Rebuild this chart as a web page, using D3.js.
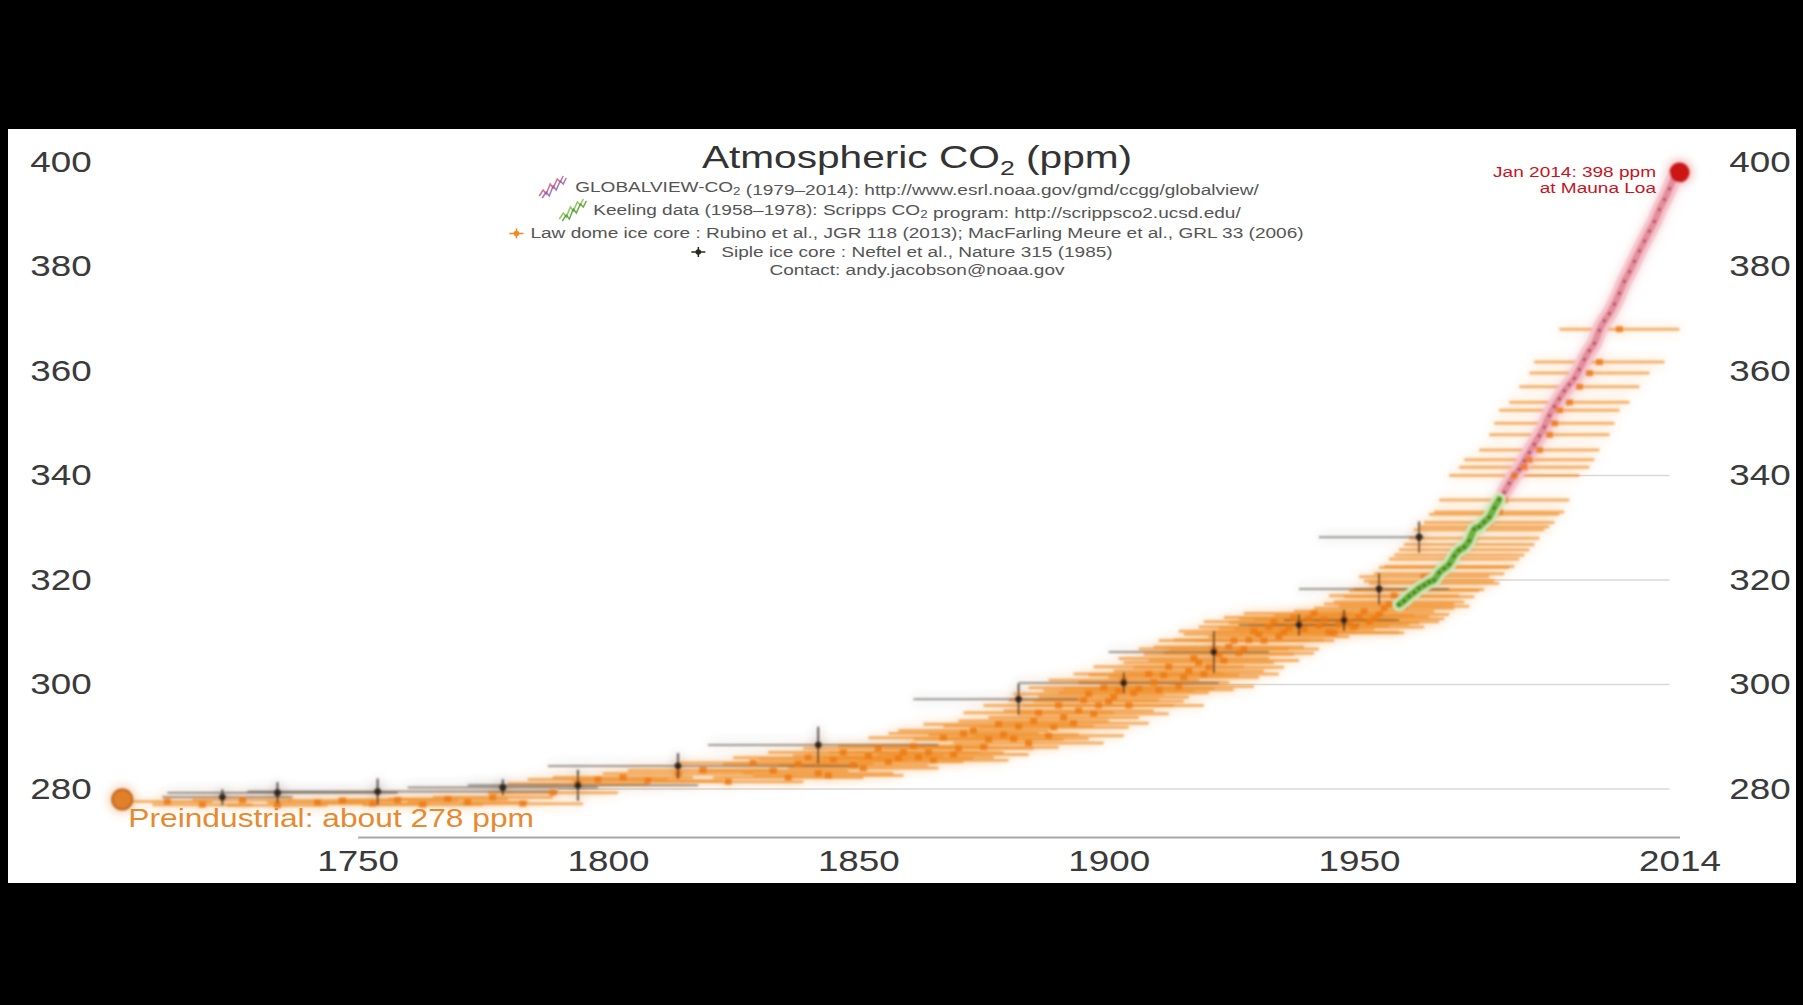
<!DOCTYPE html>
<html>
<head>
<meta charset="utf-8">
<script src="https://cdn.jsdelivr.net/npm/d3@7"></script>
<style>
  html, body { margin: 0; padding: 0; background: #000; }
  svg { display: block; }
</style>
</head>
<body>
<svg id="chart" width="1803" height="1005"></svg>
<script>
// ---------------- data ----------------
const yTicks = [280, 300, 320, 340, 360, 380, 400];
const xTickYears = [1750, 1800, 1850, 1900, 1950, 2014];

// light reference lines, drawn from where the record reaches each level
const gridPpm = [280, 300, 320, 340];
const gridFromYear = [1790, 1912, 1966, 1981];
const gridToYear = 2012;

// Law Dome ice core: gas age (year), CO2 (ppm), age spread (+/- years)
const ldYear = [1712, 1719, 1727, 1734, 1742, 1747, 1753, 1758, 1763, 1768, 1772, 1777, 1783, 1789, 1794, 1798,
  1803, 1808, 1814, 1819, 1824, 1829, 1833, 1838, 1842, 1845, 1849, 1852, 1856, 1859, 1862, 1865, 1867, 1870,
  1873, 1876, 1879, 1882, 1884, 1886, 1889, 1891, 1894, 1896, 1898, 1900, 1902, 1904, 1906, 1909, 1911, 1914,
  1916, 1918, 1920, 1922, 1924, 1926, 1928, 1930, 1932, 1934, 1936, 1938, 1940, 1942, 1944, 1946, 1948, 1950,
  1952, 1954, 1956, 1958, 1960, 1962, 1964, 1966, 1968, 1970, 1972, 1974, 1976, 1978, 1979, 1981, 1983, 1984,
  1986, 1988, 1989, 1990, 1992, 1994, 1996, 1998, 2002,
  1836, 1840, 1844, 1847, 1851, 1854, 1858, 1861, 1864, 1869, 1871, 1875, 1878, 1881, 1885, 1888, 1890, 1893,
  1895, 1897, 1899, 1901, 1903, 1905, 1908, 1910, 1912, 1915, 1917, 1919, 1921, 1923, 1925, 1927, 1929, 1931,
  1933, 1935, 1937, 1939, 1941, 1943, 1945, 1947, 1949, 1951, 1953, 1955, 1957, 1959, 1961, 1963, 1965, 1967,
  1969, 1971, 1973, 1975, 1977];
const ldPpm = [277.6, 277.0, 277.9, 276.9, 277.4, 277.8, 277.2, 277.9, 277.0, 278.1, 277.5, 278.4, 277.2, 279.3,
  281.0, 281.8, 282.2, 281.6, 282.9, 283.6, 281.4, 285.0, 283.5, 284.8, 283.0, 285.6, 284.6, 286.3, 285.2, 287.0,
  286.1, 285.5, 289.8, 287.8, 291.2, 289.5, 290.4, 292.0, 288.8, 294.6, 291.8, 293.7, 295.0, 298.2, 296.0, 296.8,
  298.8, 296.0, 299.2, 300.4, 301.8, 299.6, 302.6, 304.2, 303.3, 305.8, 307.2, 306.0, 308.5, 309.6, 311.0, 309.2,
  310.8, 311.8, 312.6, 311.2, 310.0, 311.6, 311.8, 312.9, 312.0, 313.4, 315.4, 315.8, 316.8, 318.2, 319.8, 321.2,
  322.6, 324.8, 326.8, 329.6, 331.0, 333.0, 335.3, 340.0, 341.6, 343.0, 344.9, 347.8, 350.0, 352.5, 354.0, 357.0,
  359.6, 361.7, 368.0,
  282.2, 286.0, 282.6, 287.0, 284.0, 287.8, 285.9, 288.2, 287.0, 286.6, 290.6, 288.0, 292.4, 289.6, 293.0, 290.2,
  296.0, 292.6, 297.0, 294.4, 299.4, 297.6, 300.8, 298.4, 302.0, 299.0, 303.4, 301.4, 305.0, 302.0, 306.8, 304.6,
  308.4, 306.8, 310.2, 308.4, 312.0, 310.0, 312.8, 310.6, 313.6, 312.4, 309.9, 313.2, 311.0, 314.0, 312.6, 314.6,
  317.0, 315.0, 318.0, 320.6, 319.4, 322.4, 324.0, 325.8, 328.0, 330.2, 332.6];
const ldSpread = [9, 10, 10, 10, 10, 11, 11, 12, 12, 12, 12, 12, 12, 13, 14, 14, 14, 15, 15, 15, 15, 15, 15, 15,
  15, 15, 15, 15, 15, 15, 15, 15, 15, 15, 15, 15, 15, 15, 15, 15, 15, 15, 15, 15, 15, 15, 15, 15, 15, 15, 15, 15,
  15, 15, 15, 15, 15, 15, 15, 15, 14, 14, 14, 14, 14, 14, 14, 14, 14, 14, 14, 14, 13, 13, 13, 13, 13, 13, 13, 13,
  13, 13, 13, 13, 13, 13, 13, 13, 12, 12, 12, 12, 12, 12, 12, 13, 12,
  15, 15, 15, 15, 15, 15, 15, 15, 15, 15, 15, 15, 15, 15, 15, 15, 15, 15, 15, 15, 15, 15, 15, 15, 15, 15, 15, 15,
  15, 15, 15, 15, 15, 15, 15, 14, 14, 14, 14, 14, 14, 14, 14, 14, 14, 14, 14, 14, 13, 13, 13, 13, 13, 13, 13, 13,
  13, 13, 13];

// Siple ice core: year, CO2 (ppm), age range, CO2 uncertainty (+/- ppm)
const sipleYear = [1723, 1734, 1754, 1779, 1794, 1814, 1842, 1882, 1903, 1921, 1938, 1947, 1954, 1962];
const siplePpm = [278.4, 279.3, 279.5, 280.3, 280.7, 284.4, 288.4, 297.2, 300.3, 306.2, 311.4, 312.3, 318.3, 328.2];
const sipleAgeLo = [1711, 1712, 1728, 1760, 1772, 1788, 1820, 1861, 1882, 1900, 1926, 1935, 1938, 1942];
const sipleAgeHi = [1737, 1758, 1790, 1798, 1818, 1850, 1866, 1894, 1922, 1932, 1950, 1958, 1968, 1963];
const sipleErr = [1.5, 2.0, 2.5, 1.5, 3.0, 2.5, 3.5, 3.0, 2.0, 4.0, 2.0, 2.0, 3.0, 3.0];

// Keeling / Scripps Mauna Loa record, annual means
const keelingYear = [1958, 1959, 1960, 1961, 1962, 1963, 1964, 1965, 1966, 1967, 1968, 1969, 1970, 1971, 1972,
  1973, 1974, 1975, 1976, 1977, 1978];
const keelingPpm = [315.3, 316.0, 316.9, 317.6, 318.4, 319.0, 319.6, 320.0, 321.4, 322.2, 323.0, 324.6, 325.7,
  326.3, 327.5, 329.7, 330.2, 331.1, 332.0, 333.8, 335.4];

// GLOBALVIEW-CO2 marine boundary layer, annual means
const gvYear = [1979, 1980, 1981, 1982, 1983, 1984, 1985, 1986, 1987, 1988, 1989, 1990, 1991, 1992, 1993, 1994,
  1995, 1996, 1997, 1998, 1999, 2000, 2001, 2002, 2003, 2004, 2005, 2006, 2007, 2008, 2009, 2010, 2011, 2012,
  2013, 2014];
const gvPpm = [336.8, 338.5, 340.0, 341.2, 342.8, 344.4, 346.0, 347.6, 349.3, 351.5, 353.2, 354.7, 356.2, 357.4,
  358.6, 360.3, 362.2, 363.9, 365.3, 367.8, 369.6, 371.0, 372.8, 374.9, 377.2, 379.0, 381.0, 383.0, 384.9, 386.8,
  388.6, 390.9, 392.8, 394.9, 397.0, 398.0];

const latestYear = 2014, latestPpm = 398;
const preindustrialYear = 1703, preindustrialPpm = 278;

// ---------------- drawing ----------------
const W = 1803, H = 1005;
const SX = 1.27;  // horizontal stretch of the lettering
const FONT = '"Liberation Sans", Arial, Helvetica, sans-serif';
const svg = d3.select('#chart');

const x = d3.scaleLinear().domain([1750, 2014]).range([357.6, 1679.5]);
const y = d3.scaleLinear().domain([280, 400]).range([789, 162]);

svg.append('rect').attr('width', W).attr('height', H).attr('fill', '#000');
svg.append('rect').attr('x', 8).attr('y', 129).attr('width', 1788).attr('height', 754).attr('fill', '#fff');

const defs = svg.append('defs');
defs.append('filter').attr('id', 'haze')
  .attr('x', '-5%').attr('y', '-10%').attr('width', '110%').attr('height', '120%')
  .append('feGaussianBlur').attr('stdDeviation', 6);
defs.append('filter').attr('id', 'soft')
  .attr('x', '-5%').attr('y', '-10%').attr('width', '110%').attr('height', '120%')
  .append('feGaussianBlur').attr('stdDeviation', 0.8);

function stext(g, px, py, str, size, color, anchor) {
  return g.append('text')
    .attr('transform', `translate(${px},${py}) scale(${SX},1)`)
    .attr('text-anchor', anchor || 'middle')
    .attr('font-family', FONT)
    .attr('font-size', size)
    .attr('fill', color)
    .text(str);
}

// reference lines
svg.append('g').selectAll('line').data(gridPpm).join('line')
  .attr('x1', (d, i) => x(gridFromYear[i])).attr('x2', x(gridToYear))
  .attr('y1', d => y(d)).attr('y2', d => y(d))
  .attr('stroke', '#d9d9d9').attr('stroke-width', 1.5);

// x axis
const xAxis = svg.append('g').attr('transform', 'translate(0,837)')
  .call(d3.axisBottom(x).tickValues(xTickYears).tickFormat(d3.format('d')).tickSize(0).tickPadding(13));
xAxis.select('.domain').attr('stroke', '#a8a8a8').attr('stroke-width', 2);
xAxis.selectAll('text').attr('font-family', FONT).attr('font-size', 29).attr('fill', '#3a3a3a')
  .attr('transform', `scale(${SX},1)`);

// y axes on both sides
function yAxis(px) {
  const g = svg.append('g').attr('transform', `translate(${px},0)`)
    .call(d3.axisLeft(y).tickValues(yTicks).tickFormat(d3.format('d')).tickSize(0).tickPadding(0));
  g.select('.domain').remove();
  g.selectAll('text').attr('x', 0).attr('text-anchor', 'middle')
    .attr('font-family', FONT).attr('font-size', 29).attr('fill', '#3a3a3a')
    .attr('transform', `scale(${SX},1)`);
}
yAxis(61);
yAxis(1760);

// the records
function drawRecords(g) {
  // Law Dome age ranges
  g.append('g').selectAll('line').data(ldYear).join('line')
    .attr('x1', (d, i) => x(d - ldSpread[i])).attr('x2', (d, i) => x(d + ldSpread[i]))
    .attr('y1', (d, i) => y(ldPpm[i])).attr('y2', (d, i) => y(ldPpm[i]))
    .attr('stroke', '#f0922e').attr('stroke-width', 3).attr('stroke-opacity', 0.68);

  // Siple age ranges
  g.append('g').selectAll('line').data(sipleYear).join('line')
    .attr('x1', (d, i) => x(sipleAgeLo[i])).attr('x2', (d, i) => x(sipleAgeHi[i]))
    .attr('y1', (d, i) => y(siplePpm[i])).attr('y2', (d, i) => y(siplePpm[i]))
    .attr('stroke', '#4a4038').attr('stroke-width', 1.5).attr('stroke-opacity', 0.7);

  // GLOBALVIEW
  const gvLine = d3.line().x((d, i) => x(gvYear[i])).y((d, i) => y(gvPpm[i])).curve(d3.curveMonotoneX);
  g.append('path').datum(gvYear).attr('d', gvLine).attr('fill', 'none')
    .attr('stroke', '#f5c3ca').attr('stroke-width', 15).attr('stroke-linecap', 'round');
  g.append('path').datum(gvYear).attr('d', gvLine).attr('fill', 'none')
    .attr('stroke', '#e48d9c').attr('stroke-width', 7).attr('stroke-linecap', 'round');
  g.append('g').selectAll('circle').data(gvYear).join('circle')
    .attr('cx', d => x(d)).attr('cy', (d, i) => y(gvPpm[i])).attr('r', 1.5).attr('fill', '#a8324f');

  // Law Dome samples
  g.append('g').selectAll('rect').data(ldYear).join('rect')
    .attr('x', d => x(d) - 3.5).attr('y', (d, i) => y(ldPpm[i]) - 3)
    .attr('width', 7).attr('height', 6)
    .attr('fill', '#ec7a14').attr('fill-opacity', 0.85);

  // Keeling
  const kLine = d3.line().x((d, i) => x(keelingYear[i])).y((d, i) => y(keelingPpm[i])).curve(d3.curveMonotoneX);
  g.append('path').datum(keelingYear).attr('d', kLine).attr('fill', 'none')
    .attr('stroke', '#cfe6b5').attr('stroke-width', 13).attr('stroke-linecap', 'round');
  g.append('path').datum(keelingYear).attr('d', kLine).attr('fill', 'none')
    .attr('stroke', '#6db23c').attr('stroke-width', 7).attr('stroke-linecap', 'round');
  g.append('g').selectAll('circle').data(keelingYear).join('circle')
    .attr('cx', d => x(d)).attr('cy', (d, i) => y(keelingPpm[i])).attr('r', 1.8).attr('fill', '#3c7a1a');

  // Siple samples with uncertainty
  g.append('g').selectAll('line').data(sipleYear).join('line')
    .attr('x1', d => x(d)).attr('x2', d => x(d))
    .attr('y1', (d, i) => y(siplePpm[i] - sipleErr[i])).attr('y2', (d, i) => y(siplePpm[i] + sipleErr[i]))
    .attr('stroke', '#2e2620').attr('stroke-width', 1.5);
  g.append('g').selectAll('circle').data(sipleYear).join('circle')
    .attr('cx', d => x(d)).attr('cy', (d, i) => y(siplePpm[i])).attr('r', 3.4).attr('fill', '#2e2620');

  // latest Mauna Loa value and the preindustrial level
  g.append('circle').attr('cx', x(latestYear)).attr('cy', y(latestPpm)).attr('r', 10).attr('fill', '#cc1414');
  g.append('circle').attr('cx', x(preindustrialYear)).attr('cy', y(preindustrialPpm)).attr('r', 10)
    .attr('fill', '#e0802a').attr('stroke', '#c4641a').attr('stroke-width', 2);
}
drawRecords(svg.append('g').attr('filter', 'url(#haze)').attr('opacity', 0.6));
drawRecords(svg.append('g').attr('filter', 'url(#soft)'));

// annotations
stext(svg, 1656, 177, 'Jan 2014: 398 ppm', 15, '#c8141e', 'end');
stext(svg, 1656, 193, 'at Mauna Loa', 15, '#c8141e', 'end');
stext(svg, x(preindustrialYear) + 6, 827, 'Preindustrial: about 278 ppm', 25, '#e8892e', 'start');

// title
const title = stext(svg, 917, 168, '', 32, '#333', 'middle');
title.append('tspan').text('Atmospheric CO');
title.append('tspan').attr('font-size', 21).attr('dy', 7).text('2');
title.append('tspan').attr('dy', -7).text(' (ppm)');

// sources
const lg = svg.append('g');
function sourceLine(cy, parts) {
  const t = stext(lg, 917, cy, '', 15, '#555', 'middle');
  parts.forEach(p => {
    if (typeof p === 'object') {
      t.append('tspan').attr('font-size', 10.5).attr('dy', 3).text(p.sub);
      t.append('tspan').attr('dy', -3).text('');
    } else {
      t.append('tspan').text(p);
    }
  });
  return 917 - t.node().getComputedTextLength() * SX / 2;
}
const s1 = sourceLine(192, ['GLOBALVIEW-CO', {sub: '2'}, ' (1979–2014): http://www.esrl.noaa.gov/gmd/ccgg/globalview/']);
const s2 = sourceLine(214.5, ['Keeling data (1958–1978): Scripps CO', {sub: '2'}, ' program: http://scrippsco2.ucsd.edu/']);
const s3 = sourceLine(238, ['Law dome ice core : Rubino et al., JGR 118 (2013); MacFarling Meure et al., GRL 33 (2006)']);
const s4 = sourceLine(256.5, ['Siple ice core : Neftel et al., Nature 315 (1985)']);
sourceLine(274.5, ['Contact: andy.jacobson@noaa.gov']);

// legend glyphs
function zigzag(x0, cy, colors) {
  colors.forEach((c, k) => {
    const pts = [[0, 8], [4, 2], [7, 6], [11, -4], [14, 0], [18, -9], [21, -6], [24, -12]]
      .map(p => [x0 + p[0] + k * 3, cy + p[1] + k * 2]);
    lg.append('path').attr('d', d3.line()(pts)).attr('fill', 'none')
      .attr('stroke', c).attr('stroke-width', 1.5).attr('opacity', 0.85);
  });
}
zigzag(s1 - 36, 188, ['#d9506e', '#8a5fb5']);
zigzag(s2 - 34, 211, ['#7cc142', '#4f9a2a']);
function cross(cx, cy, color) {
  lg.append('line').attr('x1', cx - 7).attr('x2', cx + 7).attr('y1', cy).attr('y2', cy)
    .attr('stroke', color).attr('stroke-width', 1.5);
  lg.append('line').attr('x1', cx).attr('x2', cx).attr('y1', cy - 5).attr('y2', cy + 5)
    .attr('stroke', color).attr('stroke-width', 1.5);
  lg.append('circle').attr('cx', cx).attr('cy', cy).attr('r', 2.8).attr('fill', color);
}
cross(s3 - 14, 233.5, '#ef8a1e');
cross(s4 - 23, 252, '#2e2620');
</script>
</body>
</html>
